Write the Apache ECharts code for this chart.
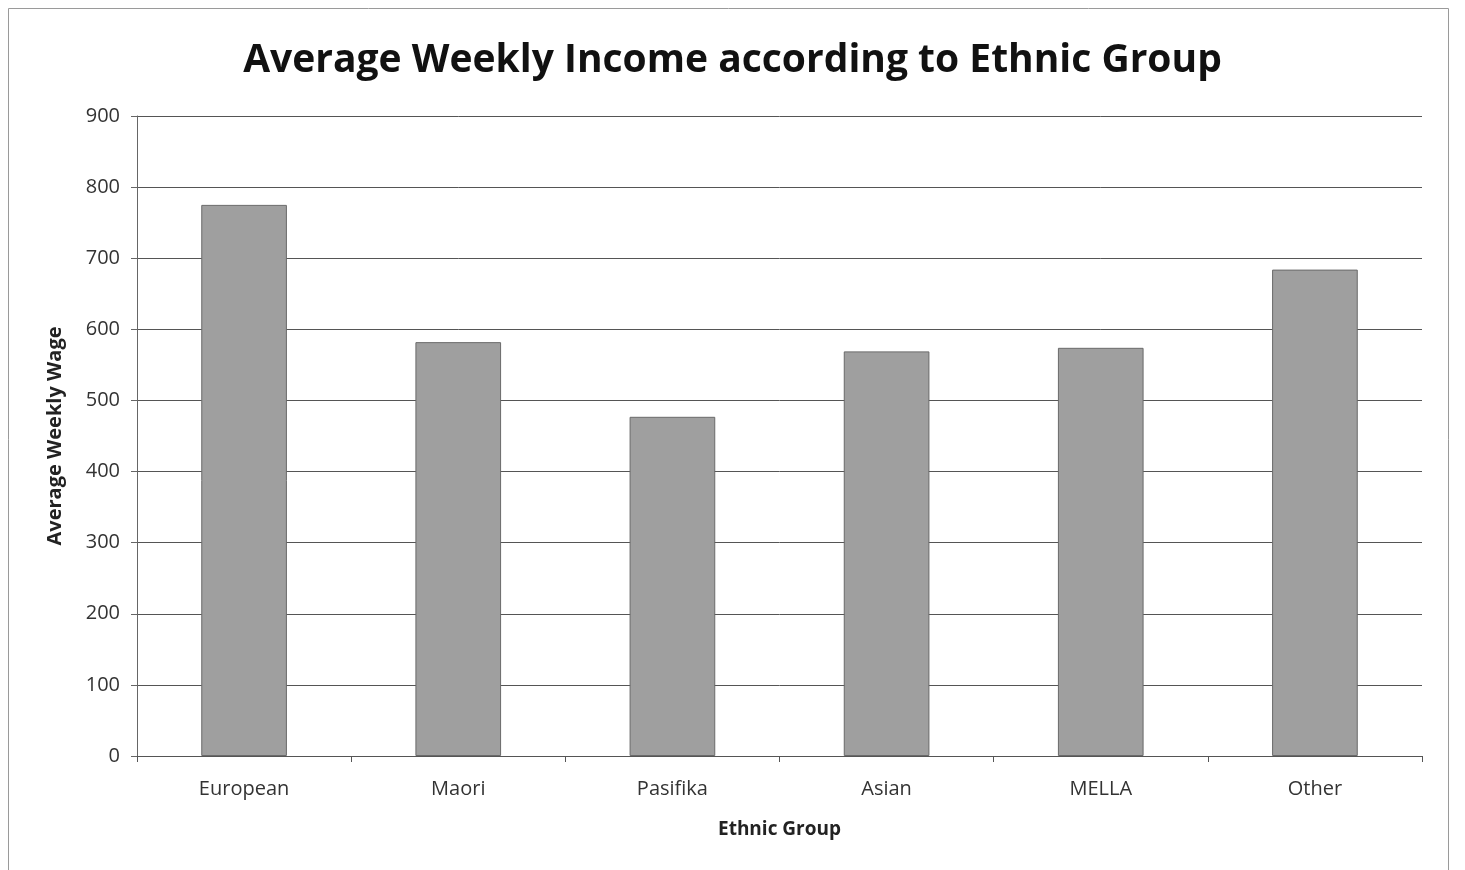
<!DOCTYPE html>
<html>
<head>
<meta charset="utf-8">
<script src="https://cdn.jsdelivr.net/npm/echarts@6/dist/echarts.min.js"></script>
<style>
  html, body { margin: 0; padding: 0; background: #fff; }
  #chart { width: 1465px; height: 870px; }
</style>
</head>
<body>
<div id="chart"></div>
<script>
// Average weekly wage by ethnic group
const categories = ['European', 'Maori', 'Pasifika', 'Asian', 'MELLA', 'Other'];
const weeklyWage = [775, 582, 477, 569, 574, 684];
const yTicks = { min: 0, max: 900, step: 100 };

const chart = echarts.init(document.getElementById('chart'));
const font = '"Open Sans", "DejaVu Sans", sans-serif';

chart.setOption({
  backgroundColor: '#ffffff',
  animation: false,
  title: {
    text: 'Average Weekly Income according to Ethnic Group',
    left: 'center',
    top: 36,
    textStyle: { fontFamily: font, fontSize: 39, fontWeight: 'bold', color: '#111' }
  },
  graphic: [{
    type: 'rect',
    shape: { x: 8.5, y: 8.5, width: 1440, height: 880 },
    style: { fill: 'none', stroke: '#9a9a9a', lineWidth: 1 }
  }],
  grid: { left: 137, right: 43, top: 116, bottom: 114 },
  xAxis: {
    type: 'category',
    data: categories,
    name: 'Ethnic Group',
    nameLocation: 'middle',
    nameGap: 64,
    nameTextStyle: { fontFamily: font, fontSize: 19, fontWeight: 'bold', color: '#222' },
    axisLine: { lineStyle: { color: '#555', width: 1 } },
    axisTick: { show: true, length: 6, lineStyle: { color: '#555' } },
    axisLabel: { fontFamily: font, fontSize: 20, color: '#333', margin: 23 }
  },
  yAxis: {
    type: 'value',
    min: yTicks.min,
    max: yTicks.max,
    interval: yTicks.step,
    name: 'Average Weekly Wage',
    nameLocation: 'middle',
    nameGap: 72,
    nameTextStyle: { fontFamily: font, fontSize: 20, fontWeight: 'bold', color: '#222' },
    axisLine: { show: true, lineStyle: { color: '#666', width: 1 } },
    axisTick: { show: true, length: 6, lineStyle: { color: '#666' } },
    axisLabel: { fontFamily: font, fontSize: 20, color: '#333', margin: 17 },
    splitLine: { lineStyle: { color: '#555', width: 1 } }
  },
  series: [{
    type: 'bar',
    data: weeklyWage,
    barWidth: '40%',
    itemStyle: { color: '#9f9f9f', borderColor: '#6a6a6a', borderWidth: 1 }
  }]
});
</script>
</body>
</html>
